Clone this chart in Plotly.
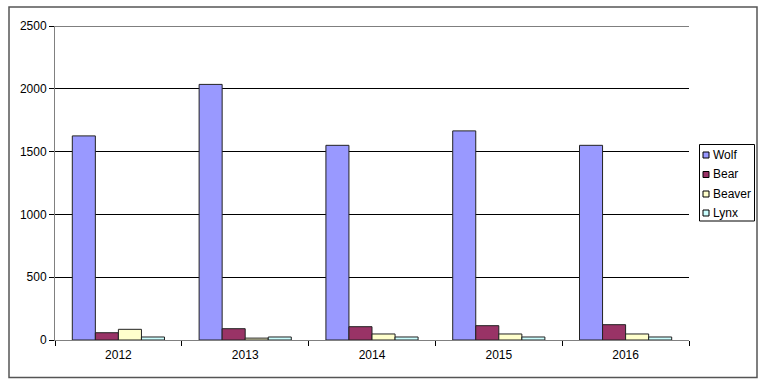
import plotly.graph_objects as go

years = ["2012", "2013", "2014", "2015", "2016"]
wolf = [1625, 2035, 1550, 1665, 1550]
bear = [58, 90, 106, 114, 122]
beaver = [85, 15, 48, 48, 48]
lynx = [24, 24, 24, 24, 24]

names = ["Wolf", "Bear", "Beaver", "Lynx"]
values = [wolf, bear, beaver, lynx]
colors = ["#9999FF", "#993366", "#FFFFCC", "#CCFFFF"]

W, H = 768, 387
L, R, T, B = 55, 689, 26, 340
YMAX = 2500

def px(x):
    return (x - L) / (R - L)

def py(y):
    return (B - y) / (B - T)

fig = go.Figure()
for name, vals, col in zip(names, values, colors):
    fig.add_trace(go.Bar(x=years, y=vals, name=name,
                         marker=dict(color=col, line=dict(color="#222222", width=1))))

shapes = [dict(type="rect", xref="paper", yref="paper",
               x0=px(9), x1=px(757), y0=py(377.5), y1=py(7),
               line=dict(color="#555555", width=1.5), layer="below"),
          dict(type="line", xref="paper", yref="y", x0=0, x1=1, y0=YMAX, y1=YMAX,
               line=dict(color="black", width=1)),
          dict(type="rect", xref="paper", yref="paper",
               x0=px(699.5), x1=px(754.5), y0=py(221), y1=py(144.5),
               line=dict(color="black", width=1), fillcolor="white")]
annotations = []
legend_y = [155, 174.5, 194, 213]
for name, col, yy in zip(names, colors, legend_y):
    shapes.append(dict(type="rect", xref="paper", yref="paper",
                       x0=px(703), x1=px(709), y0=py(yy + 3), y1=py(yy - 3),
                       line=dict(color="black", width=1), fillcolor=col))
    annotations.append(dict(text=name, xref="paper", yref="paper", x=px(711), y=py(yy),
                            xanchor="left", yanchor="middle", showarrow=False,
                            font=dict(size=12, color="black")))

fig.update_layout(
    width=W, height=H,
    margin=dict(l=L, r=W - R, t=T, b=H - B, pad=0),
    paper_bgcolor="white", plot_bgcolor="white",
    font=dict(family="Liberation Sans, Arial", size=12, color="black"),
    barmode="group", bargap=0.273, bargroupgap=0,
    showlegend=False,
    xaxis=dict(type="category", showgrid=False, showline=True, linecolor="#808080", linewidth=1,
               ticks="outside", tickson="boundaries", ticklen=5, tickcolor="black",
               tickfont=dict(size=12), ticklabelstandoff=4),
    yaxis=dict(range=[0, YMAX], dtick=500, showgrid=True, gridcolor="black", gridwidth=1,
               showline=True, linecolor="#808080", linewidth=1, ticks="outside", ticklen=5,
               tickcolor="black", zeroline=False, tickfont=dict(size=12)),
    shapes=shapes,
    annotations=annotations,
)

fig.write_html("out.html")
